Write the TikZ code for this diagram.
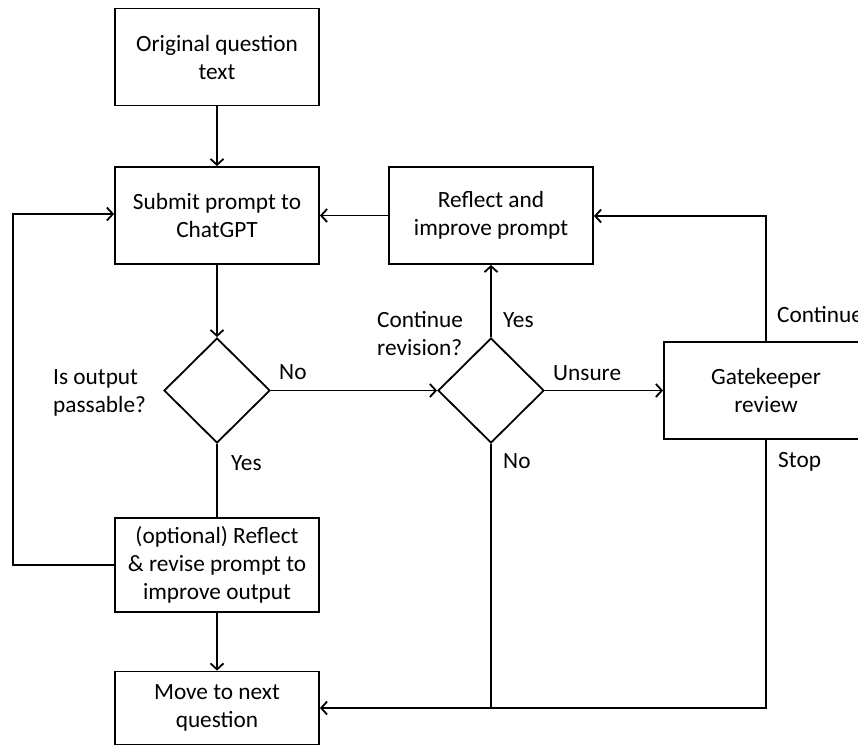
\documentclass[tikz,border=0pt]{standalone}
\usepackage{fontspec}
\setmainfont{Carlito}
\usetikzlibrary{shapes.geometric,arrows.meta}
\begin{document}
\begin{tikzpicture}[x=1pt,y=-1pt,
  every node/.style={font=\fontsize{23.3pt}{28pt}\selectfont},
  box/.style={draw,line width=1.8pt,minimum width=204pt,inner sep=0pt,align=center},
  dec/.style={draw,diamond,line width=1.8pt,minimum width=106pt,minimum height=105pt,inner sep=0pt},
  lbl/.style={inner sep=0pt,anchor=west,align=left},
  conn/.style={line width=1.8pt,-{Straight Barb[length=6pt,width=13pt,line width=1.8pt]}},
  line/.style={line width=1.8pt}]
\useasboundingbox (0,0) rectangle (858,745);
\fill[white] (0,0) rectangle (858,745);
\node[box,minimum height=97pt] (orig) at (217,57) {Original question\\text};
\node[box,minimum height=97pt] (submit) at (217,215.5) {Submit prompt to\\ChatGPT};
\node[box,minimum height=97pt] (reflect) at (491,215.5) {Reflect and\\improve prompt};
\node[dec] (d1) at (217,390.5) {};
\node[dec] (d2) at (491,390.5) {};
\node[box,minimum height=97pt] (gate) at (766,390.5) {Gatekeeper\\review};
\node[box,minimum height=94pt] (opt) at (217,565) {(optional) Reflect\\\& revise prompt to\\improve output};
\node[box,minimum height=73pt] (move) at (217,708) {Move to next\\question};

\coordinate (loopA) at (13,565);
\coordinate (loopB) at (13,214);
\coordinate (gtop) at (766,216);
\coordinate (bot) at (766,708);
\coordinate (nobot) at (491,708);

\draw[conn] (orig) -- (submit);
\draw[conn] (submit) -- (d1.north);
\draw[conn] (reflect) -- (submit);
\draw[conn] (d1.east) -- (d2.west);
\draw[conn] (d2.north) -- (reflect.south);
\draw[conn] (d2.east) -- (gate.west);
\draw[line] (d1.south) -- (opt.north);
\draw[conn] (opt) -- (move);
\draw[conn] (opt.west |- loopA) -- (loopA) -- (loopB) -- (submit.west |- loopB);
\draw[conn] (gate.north) -- (gtop) -- (reflect.east |- gtop);
\draw[conn] (gate.south) -- (bot) -- (move.east |- bot);
\draw[line] (d2.south) -- (nobot);

\node[lbl] (l1) at (53,393) {Is output\\passable?};
\node[lbl] (l2) at (279,372) {No};
\node[lbl] (l3) at (231,463) {Yes};
\node[lbl] (l4) at (377,334) {Continue\\revision?};
\node[lbl] (l5) at (503,320) {Yes};
\node[lbl] (l6) at (553,373) {Unsure};
\node[lbl] (l7) at (503,461) {No};
\node[lbl] (l8) at (777,315) {Continue};
\node[lbl] (l9) at (778,462) {Stop};
\end{tikzpicture}
\end{document}
